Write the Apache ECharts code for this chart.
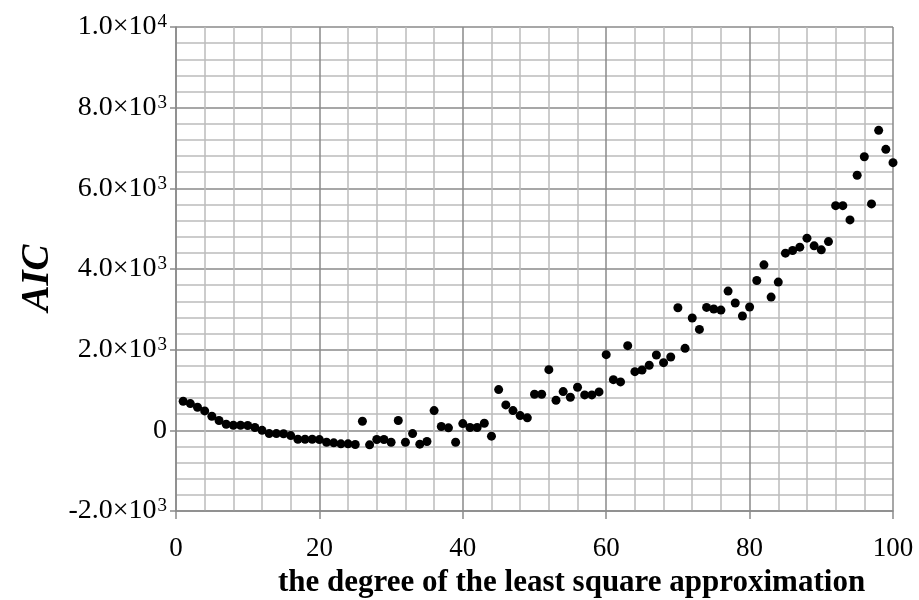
<!DOCTYPE html>
<html>
<head>
<meta charset="utf-8">
<script src="https://cdn.jsdelivr.net/npm/echarts@6/dist/echarts.min.js"></script>
<style>
  html, body { margin: 0; padding: 0; background: #fff; }
  #chart { width: 919px; height: 600px; }
</style>
</head>
<body>
<div id="chart"></div>
<script>
// Degree of the least-squares polynomial (1..100)
const degrees = Array.from({ length: 100 }, (_, i) => i + 1);

// AIC value for each degree
const aicValues = [
  720, 663, 572, 482, 350, 243, 152, 127, 127, 119,
  69, 0, -80, -80, -85, -130, -220, -220, -220, -230,
  -295, -310, -335, -335, -350, 226, -360, -228, -228, -295,
  243, -295, -80, -343, -277, 490, 94, 62, -295, 168,
  69, 69, 177, -145, 1010, 630, 490, 366, 309, 894,
  894, 1505, 745, 960, 820, 1067, 878, 878, 952, 1876,
  1257, 1200, 2099, 1455, 1497, 1615, 1868, 1678, 1819, 3039,
  2033, 2784, 2503, 3047, 3007, 2982, 3453, 3156, 2834, 3057,
  3715, 4103, 3304, 3675, 4393, 4458, 4541, 4764, 4574, 4475,
  4680, 5571, 5571, 5217, 6323, 6784, 5613, 7437, 6967, 6636
];

// Y tick labels written in a×10^n form
const yTickLabels = {
  '10000': ['1.0×10', '4'],
  '8000': ['8.0×10', '3'],
  '6000': ['6.0×10', '3'],
  '4000': ['4.0×10', '3'],
  '2000': ['2.0×10', '3'],
  '0': ['0', ''],
  '-2000': ['-2.0×10', '3']
};

const points = degrees.map((d, i) => [d, aicValues[i]]);

const serif = '"Liberation Serif", "DejaVu Serif", serif';
const majorColor = '#8a8a8a';
const minorColor = '#bcbcbc';

const chart = echarts.init(document.getElementById('chart'), null, { renderer: 'canvas' });

chart.setOption({
  backgroundColor: '#ffffff',
  animation: false,
  grid: { left: 176, right: 26, top: 27, bottom: 89, containLabel: false, outerBoundsMode: 'none' },
  xAxis: {
    type: 'value',
    min: 0,
    max: 100,
    interval: 20,
    name: 'the degree of the least square approximation',
    nameLocation: 'middle',
    nameGap: 56,
    nameTextStyle: { fontFamily: serif, fontWeight: 'bold', fontSize: 31, color: '#000', padding: [0, 0, 0, 74] },
    axisLine: { show: true, onZero: false, lineStyle: { color: majorColor, width: 1.5 } },
    axisTick: { show: true, length: 8, lineStyle: { color: majorColor, width: 1.5 } },
    axisLabel: { fontFamily: serif, fontSize: 27, color: '#000', margin: 24 },
    splitLine: { show: true, lineStyle: { color: majorColor, width: 1.5 } },
    minorTick: { show: false, splitNumber: 5 },
    minorSplitLine: { show: true, lineStyle: { color: minorColor, width: 1.5 } }
  },
  yAxis: {
    type: 'value',
    min: -2000,
    max: 10000,
    interval: 2000,
    name: 'AIC',
    nameLocation: 'middle',
    nameGap: 118,
    nameRotate: 90,
    nameTextStyle: { fontFamily: serif, fontWeight: 'bold', fontStyle: 'italic', fontSize: 39, color: '#000', padding: [0, 18, 0, 0] },
    axisLine: { show: true, onZero: false, lineStyle: { color: majorColor, width: 1.5 } },
    axisTick: { show: true, length: 6, lineStyle: { color: majorColor, width: 1.5 } },
    axisLabel: {
      margin: 9,
      formatter: function (v) {
        const parts = yTickLabels[String(v)];
        if (!parts) return '';
        return parts[1] ? '{b|' + parts[0] + '}{s|' + parts[1] + '}' : '{b|' + parts[0] + '}';
      },
      rich: {
        b: { fontFamily: serif, fontSize: 28, color: '#000' },
        s: { fontFamily: serif, fontSize: 19, color: '#000', verticalAlign: 'top', padding: [0, 0, 9, 1] }
      }
    },
    splitLine: { show: true, lineStyle: { color: majorColor, width: 1.5 } },
    minorTick: { show: false, splitNumber: 5 },
    minorSplitLine: { show: true, lineStyle: { color: minorColor, width: 1.5 } }
  },
  series: [{
    type: 'scatter',
    data: points,
    symbol: 'circle',
    symbolSize: 9,
    itemStyle: { color: '#000', opacity: 1 },
    z: 5
  }]
});
</script>
</body>
</html>
